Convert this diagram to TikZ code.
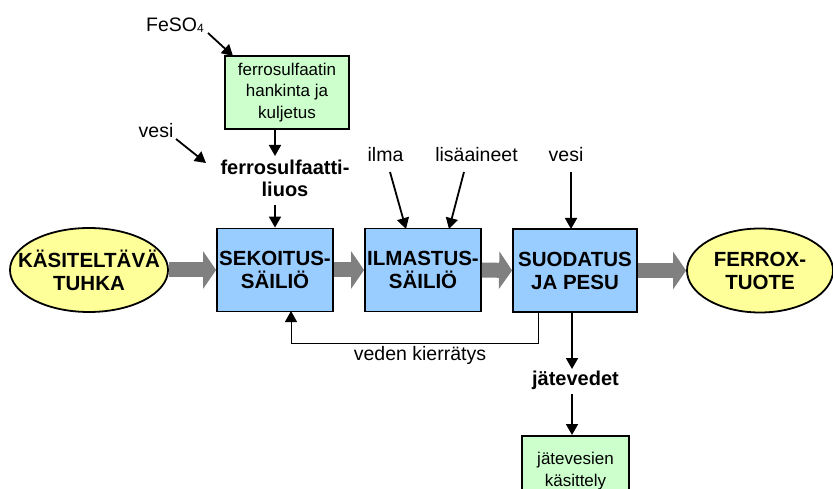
\documentclass[tikz,border=0pt]{standalone}
\usepackage{fontspec}
\setmainfont{Liberation Sans}
\usetikzlibrary{arrows.meta,shapes.geometric}
\definecolor{boxblue}{HTML}{99CCFF}
\definecolor{boxgreen}{HTML}{CCFFCC}
\definecolor{ellyellow}{HTML}{FFFF99}
\definecolor{flowgray}{HTML}{808080}
\begin{document}
\begin{tikzpicture}[x=1pt,y=-1pt,
  proc/.style={draw, line width=1.8pt, fill=boxblue, minimum height=83pt, align=center,
    font=\fontsize{20.5}{23}\selectfont\bfseries, inner sep=0pt},
  ends/.style={draw, ellipse, line width=1.8pt, fill=ellyellow, minimum height=84pt, inner sep=0pt},
  endtext/.style={align=center, font=\fontsize{20.5}{23}\selectfont\bfseries, inner sep=0pt},
  aux/.style={draw, line width=1.8pt, fill=boxgreen, align=center,
    font=\fontsize{17}{21.5}\selectfont, inner sep=0pt},
  lbl/.style={inner sep=0pt, anchor=base, font=\fontsize{19.5}{22}\selectfont},
  blbl/.style={inner sep=0pt, align=center, font=\fontsize{20}{22}\selectfont\bfseries},
  arr/.style={line width=1.8pt, -{Triangle[length=11pt,width=12pt]}},
  thinarr/.style={line width=1pt, -{Triangle[length=11pt,width=12pt]}},
  flow/.style={line width=15pt, draw=flowgray, -{Triangle[length=13pt,width=37pt]}}
]
\clip (0,0) rectangle (833,489);

% main nodes
\node[ends, minimum width=158pt] (tuhka) at (89,270) {};
\node[endtext] (tuhkaT) at (tuhka) {KÄSITELTÄVÄ\\TUHKA};
\node[proc, minimum width=116pt] (sek) at (275,270) {SEKOITUS-\\SÄILIÖ};
\node[proc, minimum width=116pt] (ilm) at (423,270) {ILMASTUS-\\SÄILIÖ};
\node[proc, minimum width=124pt] (suo) at (575,270.5) {SUODATUS\\JA PESU};
\node[ends, minimum width=146pt] (ferrox) at (760,270.5) {};
\node[endtext] (ferroxT) at (ferrox) {FERROX-\\TUOTE};

% flow arrows
\draw[flow] (tuhka.east) -- (sek.west);
\draw[flow] (sek.east) -- (ilm.west);
\draw[flow] (ilm.east) -- (suo.west);
\draw[flow] (suo.east) -- (ferrox.west);

% upper left chain
\node[lbl] (feso) at (175,32) {FeSO\raisebox{-1pt}{\fontsize{12}{12}\selectfont 4}};
\node[aux, minimum width=124pt, minimum height=73pt] (hank) at (287,92.5)
  {ferrosulfaatin\\hankinta ja\\kuljetus};
\node[lbl] (vesiA) at (156,138) {vesi};
\node[blbl] (liuos) at (285,178) {ferrosulfaatti-\\liuos};

\coordinate (fesoS) at (208,33);
\coordinate (fesoE) at (233,56);
\draw[arr] (fesoS) -- (fesoE);
\coordinate (hankB) at (275,129);
\coordinate (liuosT) at (275,156);
\draw[arr] (hankB) -- (liuosT);
\coordinate (vesiAS) at (176,139);
\coordinate (vesiAE) at (206,163);
\draw[arr] (vesiAS) -- (vesiAE);
\coordinate (liuosB) at (275,205);
\draw[arr] (liuosB) -- (sek.north);

% upper inputs
\node[lbl] (ilma) at (385.5,162) {ilma};
\node[lbl] (lisa) at (476.5,162) {lisäaineet};
\node[lbl] (vesiB) at (566,162) {vesi};
\coordinate (ilmaS) at (390,172);
\coordinate (ilmaE) at (406,229);
\draw[arr] (ilmaS) -- (ilmaE);
\coordinate (lisaS) at (464,172);
\coordinate (lisaE) at (449,229);
\draw[arr] (lisaS) -- (lisaE);
\coordinate (vesiBS) at (571,172);
\coordinate (vesiBE) at (571,229);
\draw[arr] (vesiBS) -- (vesiBE);

% recirculation
\coordinate (recS) at (538,312);
\coordinate (recE) at (291,311);
\draw[thinarr] (recS) -- (538,343) -- (291,343) -- (recE);
\node[lbl] (kierr) at (420,360) {veden kierrätys};

% waste water
\node[blbl, anchor=base] (jate) at (575.5,385) {jätevedet};
\node[aux, minimum width=107pt, minimum height=70pt, anchor=north] (kas) at (575.5,435)
  {jätevesien\\käsittely};
\coordinate (suoB) at (572,312);
\coordinate (jateT) at (572,369);
\draw[arr] (suoB) -- (jateT);
\coordinate (jateB) at (572,394);
\draw[arr] (jateB) -- (kas.north -| jateB);
\end{tikzpicture}
\end{document}
